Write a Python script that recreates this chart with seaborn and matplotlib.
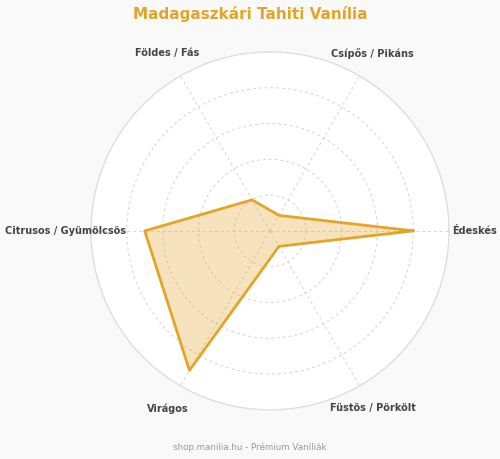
import numpy as np
import pandas as pd
import matplotlib
matplotlib.use("Agg")
import matplotlib.pyplot as plt
import seaborn as sns

# --- adatok ---
categories = ["Édeskés", "Csípős / Pikáns", "Földes / Fás",
              "Citrusos / Gyümölcsös", "Virágos", "Füstös / Pörkölt"]
values = [8, 1, 2, 7, 9, 1]
rings = [2, 4, 6, 8, 10]

TITLE = "Madagaszkári Tahiti Vanília"
FOOTER = "shop.manilia.hu - Prémium Vaníliák"
ORANGE = "#E3A527"

sns.set_theme(style="white")
plt.rcParams['font.family'] = ['DejaVu Sans']

angles = np.linspace(0, 2 * np.pi, len(categories), endpoint=False)
# zárjuk a poligont (2π, hogy a seaborn ne vonja össze a 0-val)
df = pd.DataFrame({
    "szog": np.append(angles, 2 * np.pi),
    "ertek": values + values[:1],
})

fig = plt.figure(figsize=(5.0, 4.59), dpi=100, facecolor="#f9f9f9")
ax = fig.add_axes([0.182, 0.107, 0.716, 0.78], projection="polar")
ax.set_facecolor("white")

ax.fill(df["szog"], df["ertek"], color=ORANGE, alpha=0.3, zorder=2)
sns.lineplot(data=df, x="szog", y="ertek", sort=False, estimator=None,
             color=ORANGE, linewidth=2.0, ax=ax, zorder=3)

ax.set_ylim(0, 10)
ax.set_yticks(rings)
ax.set_yticklabels([])
ax.set_xticks(angles)
ax.set_xticklabels([])
ax.grid(True, color="#d4d4d4", linestyle=(0, (3, 3)), linewidth=0.7)
ax.spines["polar"].set_color("#dddddd")
ax.spines["polar"].set_linewidth(0.9)
ax.set_xlabel("")
ax.set_ylabel("")

# kategória címkék a kör körül
for ang, lab in zip(angles, categories):
    ax.text(ang, 11.45, lab, ha="center", va="center", fontsize=7,
            fontweight="bold", color="#444444")

fig.text(0.5, 0.9695, TITLE, ha="center", va="center", fontsize=11,
         fontweight="bold", color=ORANGE)
fig.text(0.5, 0.026, FOOTER, ha="center", va="center", fontsize=6.3,
         color="#999999")

fig.savefig("out.png", dpi=100, facecolor=fig.get_facecolor())
